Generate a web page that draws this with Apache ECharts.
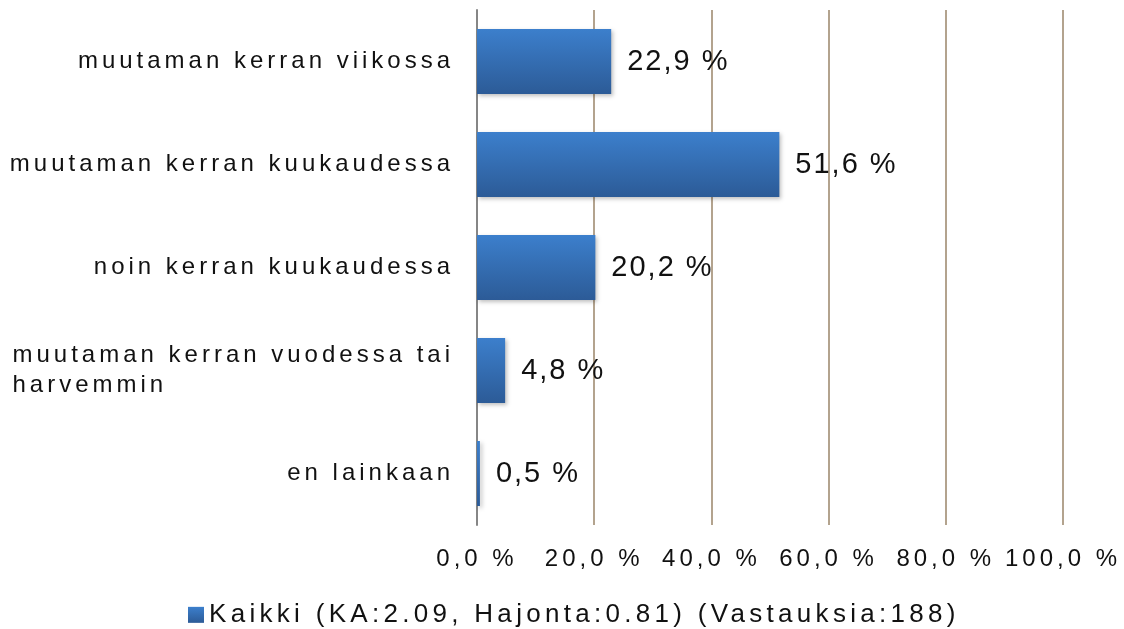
<!DOCTYPE html>
<html>
<head>
<meta charset="utf-8">
<script src="https://cdn.jsdelivr.net/npm/echarts@6/dist/echarts.min.js"></script>
<style>
  html, body { margin: 0; padding: 0; background: #fff; }
  #chart { width: 1124px; height: 629px; }
</style>
</head>
<body>
<div id="chart"></div>
<script>
// data
const categories = [
  "muutaman kerran viikossa",
  "muutaman kerran kuukaudessa",
  "noin kerran kuukaudessa",
  "muutaman kerran vuodessa tai\nharvemmin",
  "en lainkaan"
];
const values = [22.9, 51.6, 20.2, 4.8, 0.5];
const seriesName = "Kaikki (KA:2.09, Hajonta:0.81) (Vastauksia:188)";
const xTicks = { min: 0, max: 100, interval: 20 };

// the original text is letter-spaced; canvas can do it, echarts doesn't expose it
// spacing picked per font size (bigger value labels are spaced tighter)
const spacingBySize = { 24: "4px", 26: "4.3px", 29: "2px" };
const fontDesc = Object.getOwnPropertyDescriptor(CanvasRenderingContext2D.prototype, "font");
Object.defineProperty(CanvasRenderingContext2D.prototype, "font", {
  get() { return fontDesc.get.call(this); },
  set(v) {
    fontDesc.set.call(this, v);
    const m = /(\d+)px/.exec(v);
    this.letterSpacing = (m && spacingBySize[m[1]]) || "4px";
  }
});

const pct = (v) => v.toFixed(1).replace(".", ",") + " %";
const textColor = "#111111";
const fontFamily = "'Liberation Sans', Arial, sans-serif";

const chart = echarts.init(document.getElementById("chart"));
chart.setOption({
  textStyle: { fontFamily: fontFamily },
  grid: { left: 477, right: 60, top: 10, bottom: 104 },
  legend: {
    bottom: -6,
    left: 183,
    icon: "rect",
    itemWidth: 16,
    itemHeight: 16,
    itemGap: 5,
    textStyle: { fontSize: 26, color: textColor, fontFamily: fontFamily },
    data: [seriesName]
  },
  xAxis: {
    type: "value",
    min: xTicks.min,
    max: xTicks.max,
    interval: xTicks.interval,
    axisLine: { show: false },
    axisTick: { show: false },
    axisLabel: {
      margin: 20,
      fontSize: 24,
      color: textColor,
      formatter: (v) => pct(v)
    },
    splitLine: { lineStyle: { color: "#9a8468", width: 1.5 } }
  },
  yAxis: {
    type: "category",
    inverse: true,
    data: categories,
    axisLine: { lineStyle: { color: "#868686", width: 2 } },
    axisTick: { show: false },
    axisLabel: {
      margin: 23,
      fontSize: 24,
      color: textColor,
      formatter: (v) => v.indexOf("\n") >= 0
        ? v.split("\n").map((s) => "{l|" + s + "}").join("\n")
        : v,
      rich: {
        l: { fontSize: 24, color: textColor, align: "left", lineHeight: 30 }
      }
    }
  },
  series: [
    {
      name: seriesName,
      type: "bar",
      data: values,
      barWidth: 65,
      itemStyle: {
        color: new echarts.graphic.LinearGradient(0, 0, 0, 1, [
          { offset: 0, color: "#3c7fcc" },
          { offset: 1, color: "#2c5b97" }
        ]),
        shadowColor: "rgba(0,0,0,0.25)",
        shadowBlur: 4,
        shadowOffsetX: 2,
        shadowOffsetY: 2
      },
      label: {
        show: true,
        position: "right",
        distance: 16,
        fontSize: 29,
        color: textColor,
        formatter: (p) => pct(p.value)
      }
    }
  ]
});
</script>
</body>
</html>
